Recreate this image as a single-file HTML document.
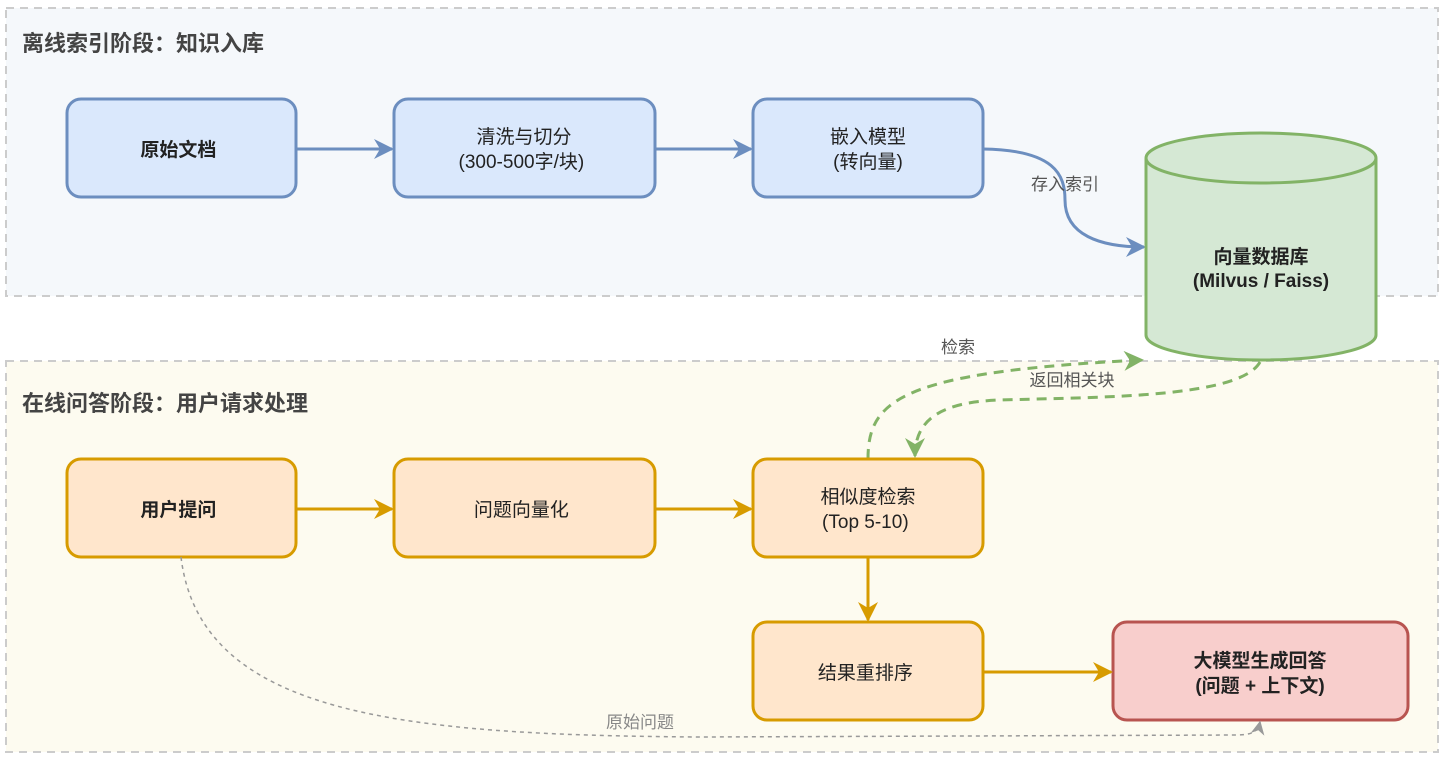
<!DOCTYPE html>
<html><head><meta charset="utf-8"><style>
html,body{margin:0;padding:0;background:#fff;}
svg text{font-family:"Liberation Sans","Noto Sans CJK SC",sans-serif;}
</style></head><body>
<svg width="1444" height="757" viewBox="0 0 1444 757" xmlns="http://www.w3.org/2000/svg">
<defs>
<marker id="ab2" viewBox="0 0 10 10" refX="9" refY="5" markerWidth="20" markerHeight="20" orient="auto" markerUnits="userSpaceOnUse"><path d="M0,0 L10,5 L0,10 L3,5z" fill="#6c8ebf"/></marker>
<marker id="ao" viewBox="0 0 10 10" refX="9" refY="5" markerWidth="20" markerHeight="20" orient="auto" markerUnits="userSpaceOnUse"><path d="M0,0 L10,5 L0,10 L3,5z" fill="#d79b00"/></marker>
<marker id="ag" viewBox="0 0 10 10" refX="9" refY="5" markerWidth="20" markerHeight="20" orient="auto" markerUnits="userSpaceOnUse"><path d="M0,0 L10,5 L0,10 L3,5z" fill="#82b366"/></marker>
<marker id="agr" viewBox="0 0 10 10" refX="9" refY="5" markerWidth="14" markerHeight="14" orient="auto" markerUnits="userSpaceOnUse"><path d="M0,0 L10,5 L0,10 L3,5z" fill="#999"/></marker>
</defs>
<rect x="6" y="8" width="1432" height="288" fill="#f5f8fb" stroke="#ccc" stroke-width="2" stroke-dasharray="8 6"/>
<rect x="6" y="361" width="1432" height="391" fill="#fdfbf0" stroke="#ccc" stroke-width="2" stroke-dasharray="8 6"/>
<text x="22" y="51" font-size="22" font-weight="bold" fill="#444">离线索引阶段：知识入库</text>
<text x="22" y="411" font-size="22" font-weight="bold" fill="#444">在线问答阶段：用户请求处理</text>

<g stroke="#6c8ebf" stroke-width="3" fill="#dae8fc">
<rect x="67" y="99" width="229" height="98" rx="14"/>
<rect x="394" y="99" width="261" height="98" rx="14"/>
<rect x="753" y="99" width="230" height="98" rx="14"/>
</g>
<g fill="none" stroke="#6c8ebf" stroke-width="3">
<path d="M296,149 L392,149" marker-end="url(#ab2)"/>
<path d="M655,149 L751,149" marker-end="url(#ab2)"/>
<path d="M983,149 C1055,150 1065,175 1065,200 C1065,235 1100,247 1144,247" marker-end="url(#ab2)"/>
</g>
<text font-size="19" fill="#222" text-anchor="middle">
<tspan x="181" y="156" font-weight="bold">原始文档</tspan>
<tspan x="524" y="143">清洗与切分</tspan><tspan x="524" y="168">(300-500字/块)</tspan>
<tspan x="868" y="143">嵌入模型</tspan><tspan x="868" y="168">(转向量)</tspan>
</text>
<text x="1065" y="190" font-size="17" fill="#555" text-anchor="middle">存入索引</text>

<g stroke="#82b366" stroke-width="3" fill="#d5e8d4">
<path d="M1146,158 L1146,335 A115,25 0 0 0 1376,335 L1376,158"/>
<ellipse cx="1261" cy="158" rx="115" ry="25"/>
</g>
<text font-size="19" font-weight="bold" fill="#222" text-anchor="middle"><tspan x="1261" y="263">向量数据库</tspan><tspan x="1261" y="287">(Milvus / Faiss)</tspan></text>

<g fill="none" stroke="#82b366" stroke-width="3" stroke-dasharray="10 7">
<path d="M868,459 C868,400 900,372 1142,360" marker-end="url(#ag)"/>
<path d="M1260,362 C1240,398 1100,397 1000,400 C940,402 915,420 915,456" marker-end="url(#ag)"/>
</g>
<text x="958" y="353" font-size="17" fill="#555" text-anchor="middle">检索</text>
<text x="1072" y="386" font-size="17" fill="#555" text-anchor="middle">返回相关块</text>

<g stroke="#d79b00" stroke-width="3" fill="#ffe6cc">
<rect x="67" y="459" width="229" height="98" rx="14"/>
<rect x="394" y="459" width="261" height="98" rx="14"/>
<rect x="753" y="459" width="230" height="98" rx="14"/>
<rect x="753" y="622" width="230" height="98" rx="14"/>
</g>
<rect x="1113" y="622" width="295" height="98" rx="14" fill="#f8cecc" stroke="#b85450" stroke-width="3"/>
<g fill="none" stroke="#d79b00" stroke-width="3">
<path d="M296,509 L392,509" marker-end="url(#ao)"/>
<path d="M655,509 L751,509" marker-end="url(#ao)"/>
<path d="M868,557 L868,620" marker-end="url(#ao)"/>
<path d="M983,672 L1111,672" marker-end="url(#ao)"/>
</g>
<text font-size="19" fill="#222" text-anchor="middle">
<tspan x="181" y="516" font-weight="bold">用户提问</tspan>
<tspan x="524" y="516">问题向量化</tspan>
<tspan x="868" y="503">相似度检索</tspan><tspan x="868" y="528">(Top 5-10)</tspan>
<tspan x="868" y="679">结果重排序</tspan>
<tspan x="1260" y="667" font-weight="bold">大模型生成回答</tspan><tspan x="1260" y="692" font-weight="bold">(问题 + 上下文)</tspan>
</text>
<path d="M181,557 C200,715 400,735 700,737 L1235,735 C1252,735 1258,732 1260,722" fill="none" stroke="#999" stroke-width="1.5" stroke-dasharray="4 4" marker-end="url(#agr)"/>
<text x="640" y="728" font-size="17" fill="#888" text-anchor="middle">原始问题</text>
</svg>
</body></html>
